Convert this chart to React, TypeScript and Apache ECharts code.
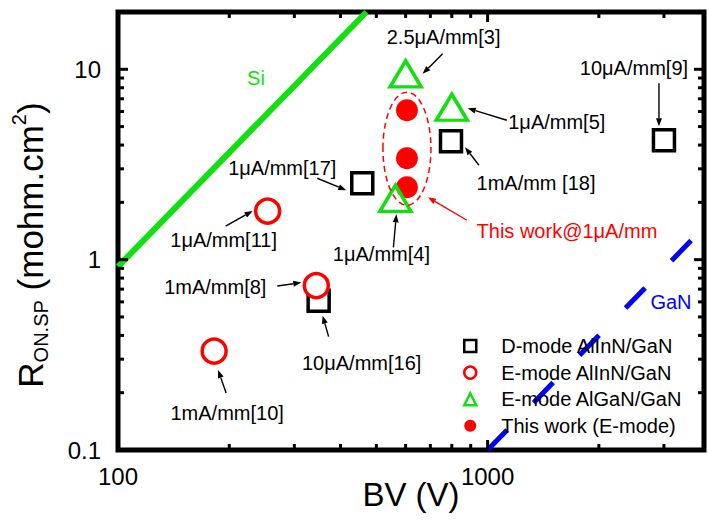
import { useEffect, useRef } from 'react';
import * as echarts from 'echarts';

// ---- data ----
const dModeBV = [458, 796, 3000, 349];
const dModeRon = [2.52, 4.19, 4.24, 0.609];
const eAlInNBV = [254, 344, 182];
const eAlInNRon = [1.8, 0.731, 0.331];
const eAlGaNBV = [600, 800, 563];
const eAlGaNRon = [9.47, 6.32, 2.1];
const thisWorkBV = [605, 605, 605];
const thisWorkRon = [6.1, 3.41, 2.4];
const siLimitBV = [100, 470];
const siLimitRon = [0.92, 20];
const ganLimitBV = [1000, 3850];
const ganLimitRon = [0.1, 1.48];

const xMin = 100;
const xMax = 3850;
const yMin = 0.1;
const yMax = 20;
const xTicksMajor = [100, 1000];
const xTicksMinor = [200, 300, 400, 500, 600, 700, 800, 900, 2000, 3000];
const yTicksMajor = [0.1, 1, 10];
const yTicksMinor = [0.2, 0.3, 0.4, 0.5, 0.6, 0.7, 0.8, 0.9, 2, 3, 4, 5, 6, 7, 8, 9];

const seriesNames = ['D-mode AlInN/GaN', 'E-mode AlInN/GaN', 'E-mode AlGaN/GaN', 'This work (E-mode)'];

// annotation texts and the point each one refers to: [series key, index]
const annotationTexts = [
  '1μA/mm[17]', '1mA/mm [18]', '10μA/mm[9]', '10μA/mm[16]',
  '1μA/mm[11]', '1mA/mm[8]', '1mA/mm[10]',
  '2.5μA/mm[3]', '1μA/mm[5]', '1μA/mm[4]',
  'This work@1μA/mm',
];
const annotationTargets: [string, number][] = [
  ['d', 0], ['d', 1], ['d', 2], ['d', 3],
  ['e', 0], ['e', 1], ['e', 2],
  ['g', 0], ['g', 1], ['g', 2],
  ['t', 1],
];

// ---- layout (pixel offsets from the target point) ----
// [labelDx, labelDy, tailDx, tailDy, headDx, headDy]
const annotationLayout = [
  [-80, -15, -45, -5, -16, 7],
  [85, 42, 28, 24, 14, 6],
  [-30, -72, -5, -57, -5, -14],
  [43, 62, 10, 36, 4, 15],
  [-44, 29, -42, 15, -15, 0],
  [-101, 1.5, -39, 0.5, -15, -3],
  [13, 62, 12, 42, 4, 19],
  [38, -37, 37, -20, 17, 0],
  [105, 15, 55, 13, 16, 1],
  [-14, 56, -2, 49, 1, 16],
  [160, 73, 60, 62, 21, 39],
];

const FONT = 'Liberation Sans, Arial, Helvetica, sans-serif';
const RED = '#ff0000';
const GREEN = '#10e010';
const BLUE = '#0000ff';

function pointOf(key: string, i: number): [number, number] {
  if (key === 'd') return [dModeBV[i], dModeRon[i]];
  if (key === 'e') return [eAlInNBV[i], eAlInNRon[i]];
  if (key === 'g') return [eAlGaNBV[i], eAlGaNRon[i]];
  return [thisWorkBV[i], thisWorkRon[i]];
}

function arrowEls(x1: number, y1: number, x2: number, y2: number, color: string) {
  const ang = Math.atan2(y2 - y1, x2 - x1);
  const L = 8;
  const W = 3;
  const bx = x2 - L * Math.cos(ang);
  const by = y2 - L * Math.sin(ang);
  const nx = -Math.sin(ang);
  const ny = Math.cos(ang);
  return [
    { type: 'line', shape: { x1, y1, x2: bx, y2: by }, style: { stroke: color, lineWidth: 1.4 } },
    {
      type: 'polygon',
      shape: { points: [[x2, y2], [bx + nx * W, by + ny * W], [bx - nx * W, by - ny * W]] },
      style: { fill: color },
    },
  ];
}

function fmtLog(v: number) {
  const l = Math.log10(v);
  if (Math.abs(l - Math.round(l)) > 1e-6) return '';
  return String(parseFloat(Math.pow(10, Math.round(l)).toPrecision(6)));
}

export default function App() {
  const ref = useRef<HTMLDivElement>(null);
  useEffect(() => {
    if (!ref.current) return;
    const chart = echarts.init(ref.current, undefined, { renderer: 'svg' });

    const xTickData = [
      ...xTicksMajor.map((v) => [v, 1, 1]),
      ...xTicksMinor.map((v) => [v, 1, 0]),
    ];
    const yTickData = [
      ...yTicksMajor.map((v) => [200, v, 1]),
      ...yTicksMinor.map((v) => [200, v, 0]),
    ];

    const option: any = {
      animation: false,
      backgroundColor: '#ffffff',
      textStyle: { fontFamily: FONT },
      grid: {
        left: 118, right: 4, top: 12, bottom: 75,
        show: true, borderColor: '#000', borderWidth: 5, backgroundColor: 'transparent',
      },
      xAxis: {
        type: 'log', logBase: 10, min: xMin, max: xMax,
        axisLine: { show: false }, axisTick: { show: false }, splitLine: { show: false },
        axisLabel: { formatter: fmtLog, fontSize: 24, color: '#000', margin: 14, fontFamily: FONT, showMaxLabel: false },
        name: 'BV (V)', nameLocation: 'middle', nameGap: 28, nameMoveOverlap: false,
        nameTextStyle: { fontSize: 33, color: '#000', fontFamily: FONT },
      },
      yAxis: {
        type: 'log', logBase: 10, min: yMin, max: yMax,
        axisLine: { show: false }, axisTick: { show: false }, splitLine: { show: false },
        axisLabel: { formatter: fmtLog, fontSize: 24, color: '#000', margin: 17, fontFamily: FONT, showMaxLabel: false },
      },
      legend: {
        orient: 'vertical', left: 458, top: 331, itemWidth: 12, itemHeight: 12, itemGap: 6.6,
        data: seriesNames,
        itemStyle: { borderWidth: 2.5 },
        textStyle: { fontSize: 20, color: '#000', fontFamily: FONT, lineHeight: 20, padding: [0, 0, 0, 20] },
        selectedMode: false,
      },
      graphic: [
        { type: 'text', x: 256, y: 78, style: { text: 'Si', fill: GREEN, fontSize: 20, fontFamily: FONT, align: 'center', verticalAlign: 'middle' } },
        { type: 'text', x: 671, y: 302, style: { text: 'GaN', fill: BLUE, fontSize: 20, fontFamily: FONT, align: 'center', verticalAlign: 'middle' } },
        {
          type: 'text', x: 30, y: 245, rotation: Math.PI / 2,
          style: {
            text: '{r|R}{s|ON.SP}{r| (mohm.cm}{p|2}{r|)}',
            align: 'center', verticalAlign: 'middle', fill: '#000', fontFamily: FONT,
            rich: {
              r: { fontSize: 35, fontFamily: FONT, fill: '#000', lineHeight: 44 },
              s: { fontSize: 20, fontFamily: FONT, fill: '#000', padding: [22, 0, 0, 0] },
              p: { fontSize: 20, fontFamily: FONT, fill: '#000', padding: [0, 0, 22, 0] },
            },
          },
        },
      ],
      series: [
        {
          name: 'Si', type: 'line', data: siLimitBV.map((v, i) => [v, siLimitRon[i]]),
          showSymbol: false, symbol: 'none', lineStyle: { color: GREEN, width: 6 }, clip: true, z: 2,
        },
        {
          name: 'GaN', type: 'line', data: ganLimitBV.map((v, i) => [v, ganLimitRon[i]]),
          showSymbol: false, symbol: 'none', lineStyle: { color: BLUE, width: 5, type: [28, 38] }, clip: true, z: 2,
        },
        {
          name: seriesNames[0], type: 'scatter', symbol: 'rect', symbolSize: 21,
          data: dModeBV.map((v, i) => [v, dModeRon[i]]),
          itemStyle: { color: 'rgba(255,255,255,0)', borderColor: '#000', borderWidth: 3.5, opacity: 1 }, z: 3,
        },
        {
          name: seriesNames[3], type: 'scatter', symbol: 'circle', symbolSize: 22,
          data: thisWorkBV.map((v, i) => [v, thisWorkRon[i]]),
          itemStyle: { color: RED, borderWidth: 0, opacity: 1 }, z: 3,
        },
        {
          name: seriesNames[1], type: 'scatter', symbol: 'circle', symbolSize: 24,
          data: eAlInNBV.map((v, i) => [v, eAlInNRon[i]]),
          itemStyle: { color: '#fff', borderColor: RED, borderWidth: 3.5, opacity: 1 }, z: 3,
        },
        {
          name: seriesNames[2], type: 'scatter', symbol: 'triangle', symbolSize: [31, 26],
          data: eAlGaNBV.map((v, i) => [v, eAlGaNRon[i]]),
          itemStyle: { color: 'rgba(255,255,255,0)', borderColor: GREEN, borderWidth: 3.5, opacity: 1 }, z: 3,
        },
        {
          name: 'ellipse', type: 'custom', z: 4, silent: true,
          data: [[thisWorkBV[0], thisWorkRon[1]]],
          renderItem: (_p: any, api: any) => {
            const top = api.coord([thisWorkBV[0], Math.max(...thisWorkRon)]);
            const bot = api.coord([thisWorkBV[0], Math.min(...thisWorkRon)]);
            const cy = (top[1] + bot[1]) / 2;
            const ry = (bot[1] - top[1]) / 2 + 18;
            return {
              type: 'ellipse',
              shape: { cx: top[0], cy, rx: 24, ry },
              style: { fill: 'none', stroke: RED, lineWidth: 1.5, lineDash: [6, 4] },
            };
          },
        },
        {
          name: 'annotations', type: 'custom', z: 5, silent: true,
          data: annotationTargets.map(([k, i]) => pointOf(k, i)),
          renderItem: (params: any, api: any) => {
            const idx = params.dataIndex;
            const p = api.coord([api.value(0), api.value(1)]);
            const lay = annotationLayout[idx];
            const isRed = idx === annotationTexts.length - 1;
            const color = isRed ? RED : '#000';
            return {
              type: 'group',
              children: [
                {
                  type: 'text', x: p[0] + lay[0], y: p[1] + lay[1],
                  style: { text: annotationTexts[idx], fill: color, fontSize: 20, fontFamily: FONT, align: 'center', verticalAlign: 'middle' },
                },
                ...arrowEls(p[0] + lay[2], p[1] + lay[3], p[0] + lay[4], p[1] + lay[5], color),
              ],
            };
          },
        },
        {
          name: 'xticks', type: 'custom', z: 6, silent: true,
          data: xTickData,
          renderItem: (params: any, api: any) => {
            const cs = params.coordSys;
            const px = api.coord([api.value(0), 1])[0];
            const len = api.value(2) ? 10 : 6;
            const st = { stroke: '#000', lineWidth: 3 };
            return {
              type: 'group',
              children: [
                { type: 'line', shape: { x1: px, y1: cs.y + cs.height, x2: px, y2: cs.y + cs.height - len }, style: st },
                { type: 'line', shape: { x1: px, y1: cs.y, x2: px, y2: cs.y + len }, style: st },
              ],
            };
          },
        },
        {
          name: 'yticks', type: 'custom', z: 6, silent: true,
          data: yTickData,
          renderItem: (params: any, api: any) => {
            const cs = params.coordSys;
            const py = api.coord([200, api.value(1)])[1];
            const len = api.value(2) ? 10 : 6;
            const st = { stroke: '#000', lineWidth: 3 };
            return {
              type: 'group',
              children: [
                { type: 'line', shape: { x1: cs.x, y1: py, x2: cs.x + len, y2: py }, style: st },
                { type: 'line', shape: { x1: cs.x + cs.width, y1: py, x2: cs.x + cs.width - len, y2: py }, style: st },
              ],
            };
          },
        },
      ],
    };
    chart.setOption(option);
    return () => chart.dispose();
  }, []);
  return (
    <div
      ref={ref}
      style={{ position: 'fixed', left: 0, top: 0, width: 708, height: 525, background: '#fff' }}
    />
  );
}
